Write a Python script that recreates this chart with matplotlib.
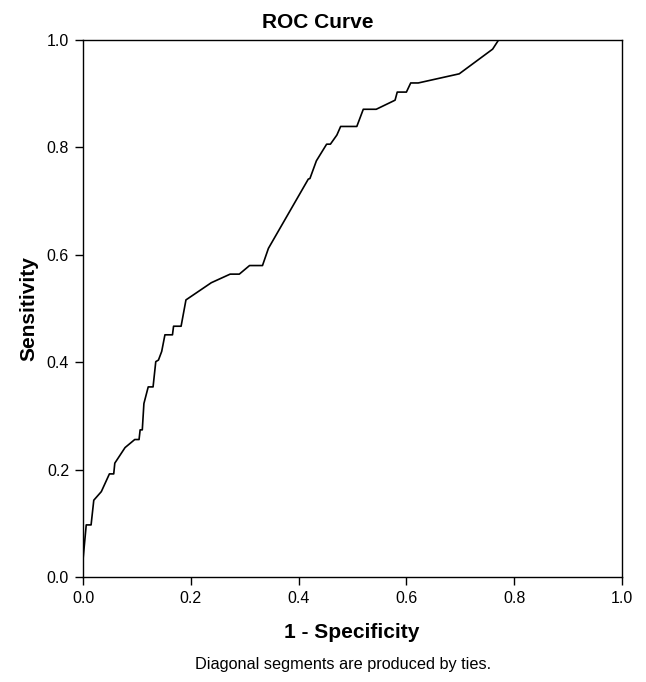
import matplotlib
matplotlib.use("Agg")
import matplotlib.pyplot as plt

plt.rcParams['font.family'] = ['Liberation Sans', 'DejaVu Sans']

# ROC curve points (1 - specificity, sensitivity)
fpr = [0.000, 0.000, 0.006, 0.015, 0.020, 0.034, 0.049, 0.057, 0.059, 0.078,
       0.096, 0.104, 0.106, 0.110, 0.113, 0.121, 0.130, 0.135, 0.140, 0.146,
       0.152, 0.166, 0.168, 0.182, 0.191, 0.238, 0.273, 0.290, 0.309, 0.333,
       0.344, 0.418, 0.421, 0.433, 0.452, 0.459, 0.471, 0.478, 0.508, 0.520,
       0.544, 0.575, 0.579, 0.583, 0.600, 0.608, 0.622, 0.698, 0.760, 0.771,
       1.000]
tpr = [0.000, 0.032, 0.097, 0.097, 0.143, 0.159, 0.192, 0.192, 0.212, 0.241,
       0.256, 0.256, 0.274, 0.274, 0.323, 0.354, 0.354, 0.401, 0.404, 0.420,
       0.451, 0.451, 0.467, 0.467, 0.516, 0.548, 0.564, 0.564, 0.580, 0.580,
       0.612, 0.741, 0.742, 0.775, 0.806, 0.806, 0.823, 0.839, 0.839, 0.871,
       0.871, 0.886, 0.888, 0.903, 0.903, 0.920, 0.920, 0.937, 0.983, 1.000,
       1.000]

ticks = [0.0, 0.2, 0.4, 0.6, 0.8, 1.0]

W, H = 646, 682
fig = plt.figure(figsize=(W / 100, H / 100), dpi=100)
ax = fig.add_axes([83 / W, 1 - 577 / H, 539 / W, 537 / H])

ax.plot(fpr, tpr, color='black', lw=1.2)

ax.set_xlim(0, 1)
ax.set_ylim(0, 1)
ax.set_xticks(ticks)
ax.set_yticks(ticks)
ax.set_xticklabels([f'{t:.1f}' for t in ticks])
ax.set_yticklabels([f'{t:.1f}' for t in ticks])
ax.tick_params(direction='out', length=6, width=1, labelsize=11.5, pad=4)
for s in ax.spines.values():
    s.set_linewidth(1)

# titles and labels placed in pixel terms
fig.text(318 / W, 1 - 23 / H, 'ROC Curve', ha='center', va='center',
         fontsize=15, fontweight='bold')
fig.text(352 / W, 1 - 633 / H, '1 - Specificity', ha='center', va='center',
         fontsize=15, fontweight='bold')
fig.text(29 / W, 1 - 309 / H, 'Sensitivity', ha='center', va='center',
         rotation=90, fontsize=15, fontweight='bold')
fig.text(343 / W, 1 - 665 / H, 'Diagonal segments are produced by ties.',
         ha='center', va='center', fontsize=11.7)

fig.savefig('out.png', dpi=100)
